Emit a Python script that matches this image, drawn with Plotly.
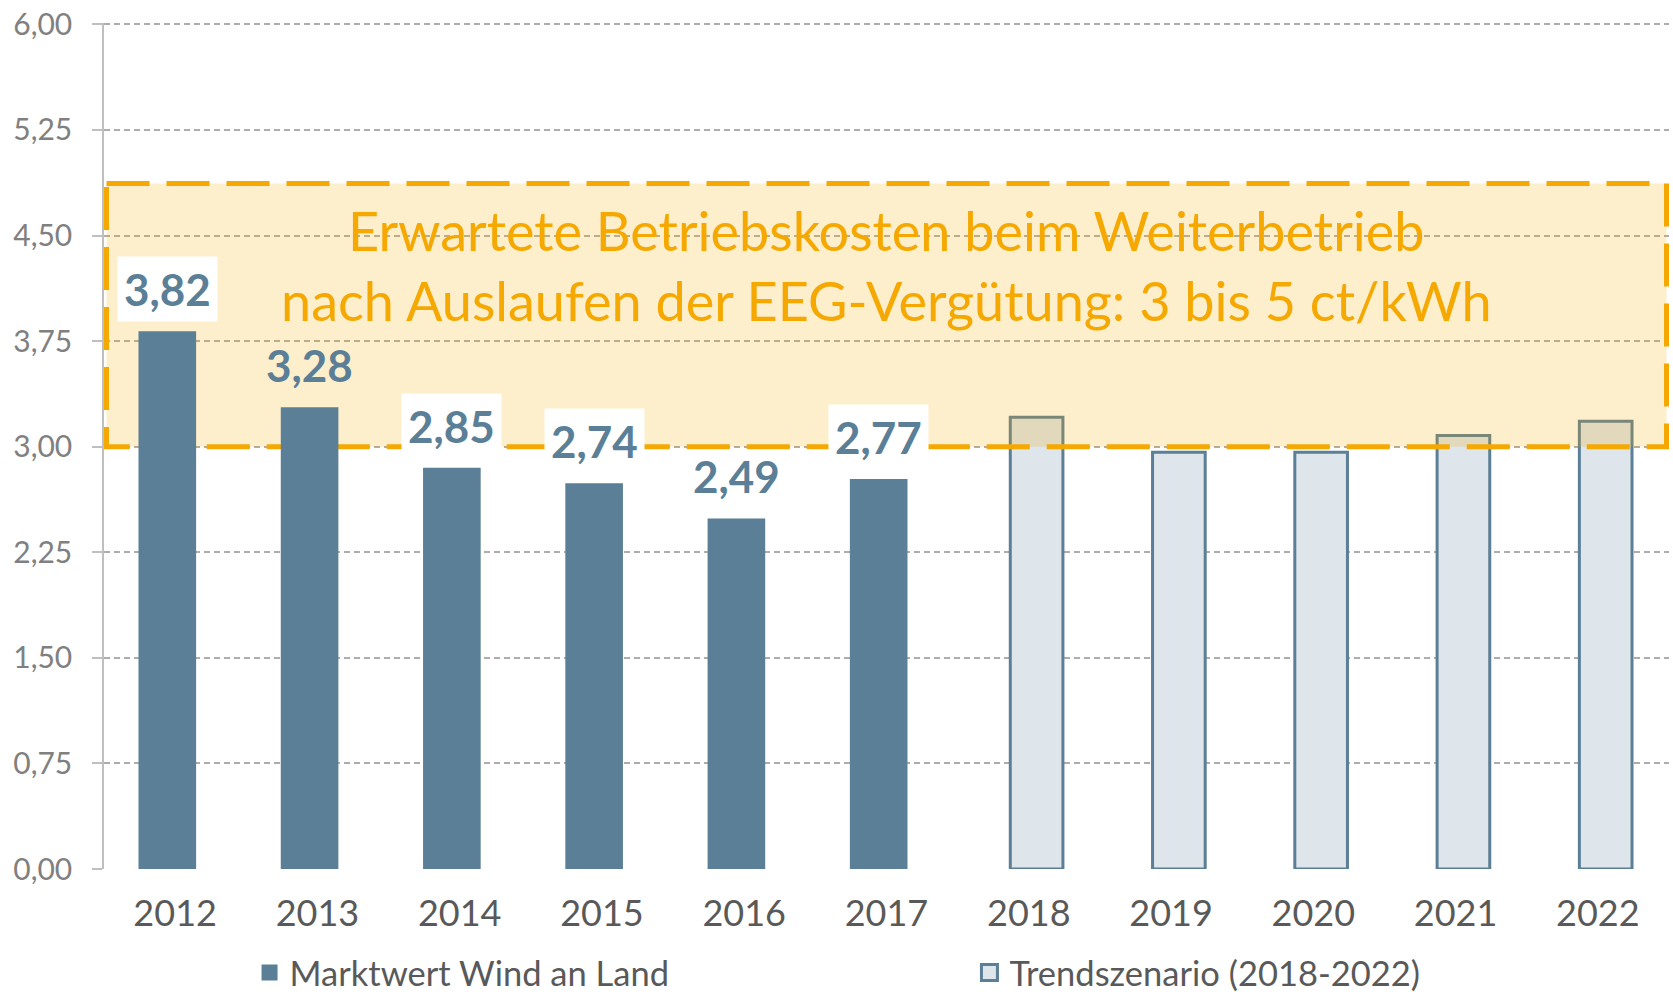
import plotly.graph_objects as go

# ---------------- data ----------------
years = ["2012", "2013", "2014", "2015", "2016", "2017",
         "2018", "2019", "2020", "2021", "2022"]
marktwert = [3.82, 3.28, 2.85, 2.74, 2.49, 2.77, None, None, None, None, None]
trend = [None, None, None, None, None, None, 3.21, 2.96, 2.96, 3.08, 3.18]
box_low, box_high = 3.0, 4.87
box_text = "Erwartete Betriebskosten beim Weiterbetrieb<br>nach Auslaufen der EEG-Vergütung: 3 bis 5 ct/kWh"
name_marktwert = "Marktwert Wind an Land"
name_trend = "Trendszenario (2018-2022)"
label_bg = [True, False, True, True, False, True]   # white label background (style)

# ---------------- style ----------------
W, H = 1673, 994
ML, MR, MT, MB = 104, 4, 23, 125
C_BAR = "#5B7F96"
C_TREND = "#DEE5EB"
C_ORANGE = "#F5A800"
FONT = "Lato"

n = len(years)
xs = list(range(n))
xr = [-0.5, n - 0.5]
plot_w = W - ML - MR
px_per_unit = plot_w / n
shift = 0.055

fig = go.Figure()

# trend bars (main subplot, below the box)
fig.add_trace(go.Bar(
    x=xs, y=trend, width=0.37, offset=shift - 0.185,
    marker=dict(color=C_TREND, line=dict(color=C_BAR, width=3)),
    showlegend=False, hoverinfo="skip", xaxis="x", yaxis="y"))

# highlighted cost range box
inset = 2.5 / px_per_unit
bx0, bx1 = xr[0] + inset, xr[1] - inset
fig.add_trace(go.Scatter(
    x=[bx0, bx1, bx1, bx0, bx0], y=[box_high, box_high, box_low, box_low, box_high],
    mode="lines", fill="toself", fillcolor="rgba(245,168,0,0.2)",
    line=dict(color=C_ORANGE, width=5, dash="43px,17px"),
    showlegend=False, hoverinfo="skip", xaxis="x", yaxis="y"))

# market value bars (overlay subplot, above the box)
fig.add_trace(go.Bar(
    x=xs, y=marktwert, width=0.405, offset=-shift - 0.2025,
    marker=dict(color=C_BAR, line=dict(width=0)),
    showlegend=False, hoverinfo="skip", xaxis="x2", yaxis="y"))

# legend proxies (two separate legends for exact placement)
fig.add_trace(go.Scatter(x=[None], y=[None], mode="markers", name=name_marktwert,
                         legend="legend",
                         marker=dict(symbol="square", size=20, color=C_BAR)))
fig.add_trace(go.Scatter(x=[None], y=[None], mode="markers", name=name_trend,
                         legend="legend2",
                         marker=dict(symbol="square", size=18, color=C_TREND,
                                     line=dict(color=C_BAR, width=3))))

annotations = []
for i, v in enumerate(marktwert):
    if v is None:
        continue
    annotations.append(dict(
        x=xs[i] - shift, y=v, xref="x", yref="y", yanchor="bottom", yshift=9,
        text="<b>" + f"{v:.2f}".replace(".", ",") + "</b>", showarrow=False,
        font=dict(family=FONT, size=44, color=C_BAR),
        bgcolor="white" if label_bg[i] else None, borderpad=6))

annotations.append(dict(
    x=(xr[0] + xr[1]) / 2, y=4.29, xref="x", yref="y", text=box_text, showarrow=False,
    font=dict(family=FONT, size=54, color=C_ORANGE), align="center",
    xanchor="center", yanchor="middle"))

legend_common = dict(orientation="h", yanchor="middle", y=-0.1225, xanchor="left",
                     font=dict(size=34.5, color="#595959"), bgcolor="rgba(0,0,0,0)")

fig.update_layout(
    width=W, height=H, margin=dict(l=ML, r=MR, t=MT, b=MB, autoexpand=False),
    paper_bgcolor="white", plot_bgcolor="white",
    separators=", ", barmode="overlay",
    font=dict(family=FONT, color="#595959"),
    xaxis=dict(range=xr, tickmode="array", tickvals=xs, ticktext=years,
               showgrid=False, zeroline=False, showline=False, ticks="",
               tickfont=dict(size=36, color="#595959"), ticklabelstandoff=20),
    xaxis2=dict(range=xr, overlaying="x", visible=False),
    yaxis=dict(range=[0, 6.01], tick0=0, dtick=0.75, tickformat=".2f",
               showgrid=True, gridcolor="#ADADAD", griddash="6px,4px", gridwidth=1.5,
               zeroline=False, showline=True, linecolor="#BFBFBF", linewidth=1.5,
               ticks="outside", ticklen=10, tickcolor="#BFBFBF", tickwidth=1.5,
               tickfont=dict(size=30, color="#808080"), ticklabelstandoff=14),
    legend=dict(legend_common, x=0.093),
    legend2=dict(legend_common, x=0.553),
    annotations=annotations,
)

# remove the default page margin so the figure fills the window exactly
fig.write_html("out.html", config={"displayModeBar": False},
               post_script="document.body.style.margin='0';document.body.style.overflow='hidden';")
